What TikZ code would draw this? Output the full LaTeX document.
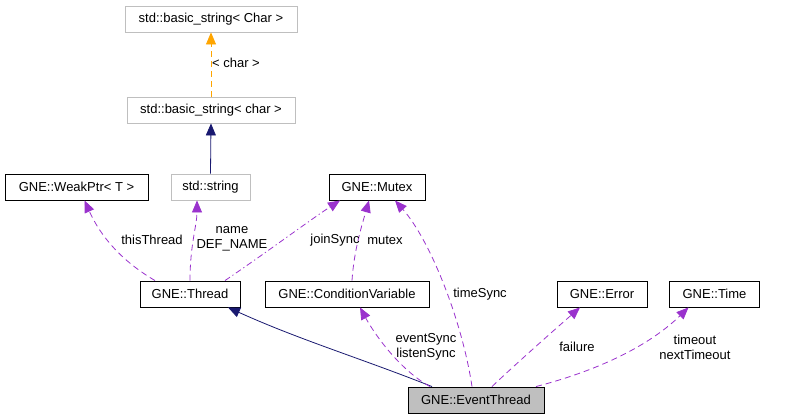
\documentclass[tikz,border=0pt]{standalone}
\usepackage{fontspec}
\setmainfont{Liberation Sans}
\usetikzlibrary{arrows.meta,calc}
\definecolor{dpurple}{HTML}{9A32CD}
\definecolor{dnavy}{HTML}{191970}
\definecolor{dorange}{HTML}{FFA500}
\definecolor{dgray}{HTML}{BFBFBF}
\begin{document}
\begin{tikzpicture}[x=1pt,y=-1pt,
  font=\fontsize{13}{15}\selectfont,
  cls/.style={draw=black,line width=0.9pt,minimum height=26pt,inner sep=0pt,anchor=center},
  ext/.style={cls,draw=dgray},
  cur/.style={cls,fill=dgray},
  dep/.style={dpurple,line width=0.8pt,dash pattern=on 6pt off 4pt,-{Triangle[length=12pt,width=10pt]}},
  depdot/.style={dep,dash pattern=on 6pt off 3pt on 1.2pt off 3pt},
  inh/.style={dnavy,line width=0.8pt,-{Triangle[length=12pt,width=10pt]}},
  tmpl/.style={dorange,line width=0.8pt,dash pattern=on 6pt off 4pt,-{Triangle[length=12pt,width=10pt]}},
  lbl/.style={align=center,inner sep=0pt}]
\useasboundingbox (0,0) rectangle (793,419);

\node[ext,minimum width=172pt] (bsC) at (211,19) {std::basic\_string< Char >};
\node[ext,minimum width=168pt] (bsc) at (211,110) {std::basic\_string< char >};
\node[cls,minimum width=143pt] (weak) at (76.5,187) {GNE::WeakPtr< T >};
\node[ext,minimum width=79pt] (str) at (210.5,187) {std::string};
\node[cls,minimum width=96pt] (mutex) at (377,187) {GNE::Mutex};
\node[cls,minimum width=100pt] (thread) at (190,294) {GNE::Thread};
\node[cls,minimum width=164pt] (cv) at (347,294) {GNE::ConditionVariable};
\node[cls,minimum width=90pt] (err) at (602,294) {GNE::Error};
\node[cls,minimum width=90pt] (time) at (714.5,294) {GNE::Time};
\node[cur,minimum width=136pt] (ev) at (476,400) {GNE::EventThread};

% template and inheritance
\draw[tmpl] (bsc.north) -- (bsC.south);
\node[lbl] (lchar) at (236,63) {< char >};
\draw[inh] (str.north) -- (bsc.south);
\draw[inh] ([xshift=-44]ev.north) .. controls (360,358) and (300,340) .. ([xshift=38]thread.south);

% usage edges
\draw[dep] ([xshift=-35]thread.north) .. controls (120,260) and (100,235) .. ([xshift=8]weak.south);
\draw[dep] (thread.north) .. controls (190,245) and (197,225) .. ([xshift=-13.5]str.south);
\draw[depdot] ([xshift=35]thread.north) .. controls (270,250) and (310,220) .. ([xshift=-37]mutex.south);
\draw[dep] ([xshift=5]cv.north) .. controls (354,250) and (362,225) .. ([xshift=-8]mutex.south);
\draw[dep] ([xshift=-4]ev.north) .. controls (462,320) and (430,240) .. ([xshift=18]mutex.south);
\draw[dep] ([xshift=-46]ev.north) .. controls (400,370) and (375,335) .. ([xshift=13]cv.south);
\draw[dep] ([xshift=16]ev.north) .. controls (520,360) and (560,325) .. ([xshift=-22]err.south);
\draw[dep] ([xshift=60]ev.north) .. controls (600,370) and (650,345) .. ([xshift=-26]time.south);

% labels
\node[lbl] (lthis) at (152,240) {thisThread};
\node[lbl] (lname) at (232,239) {name\\DEF\_NAME};
\node[lbl] (ljoin) at (335,240) {joinSync};
\node[lbl] (lmutex) at (385,240) {mutex};
\node[lbl] (ltime) at (480,294) {timeSync};
\node[lbl] (lev) at (426,347) {eventSync\\listenSync};
\node[lbl] (lfail) at (577,347) {failure};
\node[lbl] (ltout) at (695,347) {timeout\\nextTimeout};
\end{tikzpicture}
\end{document}
